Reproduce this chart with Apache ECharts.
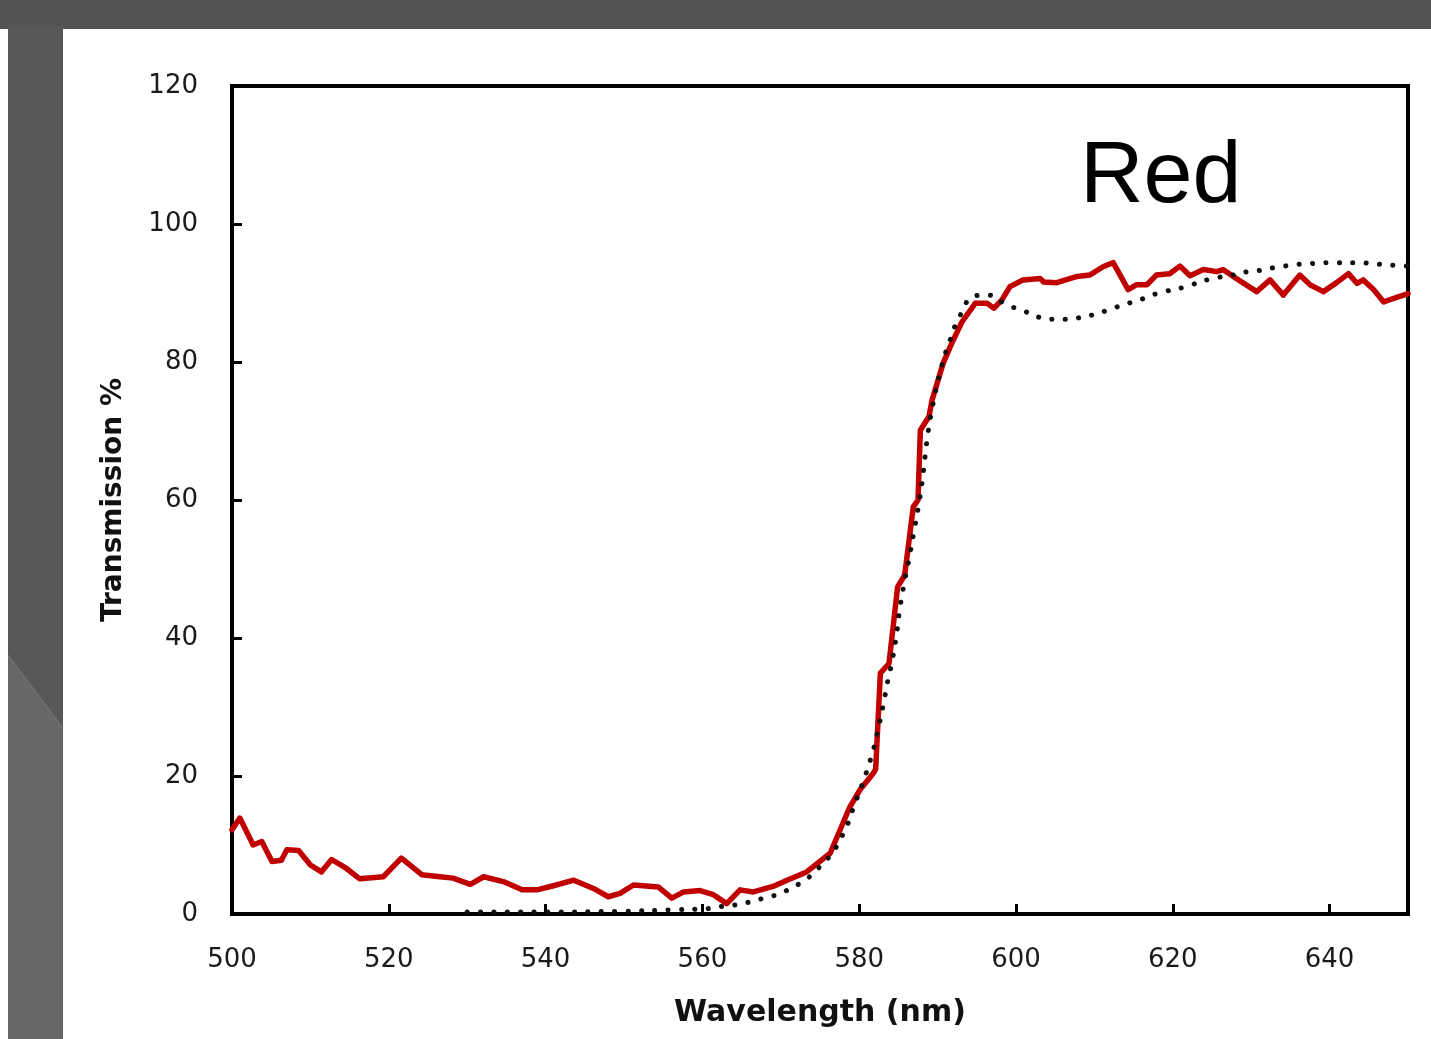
<!DOCTYPE html>
<html>
<head>
<meta charset="utf-8">
<title>Red</title>
<script src="https://cdn.jsdelivr.net/npm/echarts@6/dist/echarts.min.js"></script>
<style>
  html, body { margin: 0; padding: 0; background: #fff; }
  #chart { width: 1431px; height: 1039px; }
</style>
</head>
<body>
<div id="chart"></div>
<script>
// measured transmission (red)
var redWave = [500, 501, 502.7, 503.8, 505.1, 506.3, 507, 508.5, 510, 511.4, 512.7, 514.6, 516.3, 519.3, 521.6, 524.2, 526.5, 528.2, 530.4, 532.1,
  534.6, 537, 538.9, 541, 543.6, 546.1, 548, 549.5, 551.2, 554.4, 556.1, 557.6, 559.7, 561.4, 563.1, 564.8, 566.5, 569, 570.8, 573.3,
  576.3, 578.8, 580.1, 581.8, 582.1, 582.7, 583.8, 584.9, 585.8, 586.9, 587.5, 587.8, 588.9, 589.3, 590.7, 591.8, 593.1, 594.8, 596.3, 597.2,
  598.2, 599.2, 600.9, 603.1, 603.5, 605.2, 607.8, 609.4, 611.1, 612.4, 614.3, 615.4, 616.7, 617.9, 619.6, 620.9, 622.2, 623.9, 625.6, 626.4,
  628.1, 630.7, 632.4, 634.1, 636.2, 637.5, 639.2, 640.9, 642.4, 643.5, 644.3, 645.6, 646.9, 648.1, 650];
var redTrans = [12.2, 13.9, 10.0, 10.5, 7.6, 7.8, 9.3, 9.2, 7.1, 6.1, 7.9, 6.6, 5.1, 5.4, 8.1, 5.7, 5.4, 5.2, 4.3, 5.4,
  4.7, 3.5, 3.5, 4.1, 4.9, 3.7, 2.5, 3.0, 4.2, 3.9, 2.3, 3.2, 3.4, 2.8, 1.5, 3.5, 3.2, 4.0, 4.9, 6.1,
  8.8, 15.5, 18.0, 20.4, 21.0, 34.9, 36.3, 47.4, 49.1, 59.0, 60.0, 70.1, 72.1, 74.5, 79.8, 82.7, 85.8, 88.5, 88.5, 87.8,
  89.0, 90.9, 91.9, 92.1, 91.6, 91.5, 92.4, 92.6, 93.8, 94.4, 90.5, 91.2, 91.2, 92.6, 92.8, 93.9, 92.5, 93.4, 93.1, 93.4,
  92.1, 90.2, 91.9, 89.7, 92.6, 91.2, 90.2, 91.5, 92.8, 91.4, 91.9, 90.5, 88.7, 89.2, 89.9];

// dotted (model) curve
var fitWave = [530, 540, 550, 556, 561, 563, 564.8, 566.5, 568.2, 570, 571.5, 573, 574.3, 575.6, 576.7, 577.4, 578.3, 579.3, 580.5, 581.6,
  582.4, 583.1, 583.7, 584.1, 584.7, 585.1, 585.7, 586.3, 586.9, 587.5, 588, 588.4, 588.8, 589.4, 590.5, 591.6, 592.9, 594.8, 596.5, 598.2,
  599.7, 601.2, 602.9, 604.6, 606.3, 608, 609.7, 611.4, 612.9, 614.6, 616.3, 617.9, 621.3, 624.7, 627.7, 629.6, 631.3, 633, 634.9, 636.6,
  638.3, 640, 643.4, 645.2, 646.9, 648.8, 650];
var fitTrans = [0.3, 0.3, 0.4, 0.6, 0.8, 1.2, 1.4, 1.9, 2.4, 3.0, 3.9, 4.8, 6.1, 7.6, 9.0, 10.5, 12.4, 15.5, 19.2, 23.0,
  26.7, 30.5, 34.1, 36.1, 40.0, 43.6, 47.7, 51.1, 54.9, 58.7, 62.4, 66.3, 69.9, 73.8, 79.3, 83.2, 86.8, 89.6, 89.7, 88.7,
  87.9, 87.3, 86.5, 86.2, 86.2, 86.4, 86.8, 87.4, 88.0, 88.6, 89.2, 89.9, 90.8, 92.0, 92.6, 93.1, 93.3, 93.7, 94.0, 94.2,
  94.3, 94.4, 94.4, 94.3, 94.1, 94.0, 93.9];

var xRange = [500, 650];
var yRange = [0, 120];

function pairs(xs, ys) {
  var out = [];
  for (var i = 0; i < xs.length; i++) out.push([xs[i], ys[i]]);
  return out;
}

var myChart = echarts.init(document.getElementById('chart'));
var labelFont = { color: '#1a1a1a', fontSize: 26, fontFamily: 'DejaVu Sans' };

var option = {
  backgroundColor: '#fff',
  animation: false,
  graphic: [
    // slide frame
    { type: 'rect', shape: { x: 0, y: 0, width: 1431, height: 29 }, style: { fill: '#545454' } },
    { type: 'rect', shape: { x: 8, y: 26, width: 55, height: 1013 }, style: { fill: '#585858' } },
    { type: 'polygon', shape: { points: [[8, 655], [63, 728], [63, 1039], [8, 1039]] }, style: { fill: '#666767' } },
    { type: 'line', shape: { x1: 8, y1: 655, x2: 63, y2: 728 }, style: { stroke: '#7a7a7a', lineWidth: 1 } },
    {
      type: 'text', left: 1080, top: 134,
      style: { text: 'Red', fontSize: 88, fontFamily: 'Liberation Sans', fill: '#000' }
    }
  ],
  grid: {
    left: 232, right: 23, top: 86, bottom: 125,
    show: true, borderColor: '#000', borderWidth: 4
  },
  xAxis: {
    type: 'value',
    min: xRange[0], max: xRange[1], interval: 20,
    name: 'Wavelength (nm)',
    nameLocation: 'middle',
    nameGap: 84,
    nameTextStyle: { color: '#111', fontSize: 30, fontWeight: 'bold', fontFamily: 'DejaVu Sans' },
    splitLine: { show: false },
    axisLine: { lineStyle: { color: '#000', width: 4 } },
    axisTick: { inside: true, length: 10, lineStyle: { color: '#000', width: 3 } },
    axisLabel: Object.assign({ margin: 33, showMaxLabel: false }, labelFont)
  },
  yAxis: {
    type: 'value',
    min: yRange[0], max: yRange[1], interval: 20,
    name: 'Transmission %',
    nameLocation: 'middle',
    nameGap: 104,
    nameTextStyle: { color: '#111', fontSize: 28, fontWeight: 'bold', fontFamily: 'DejaVu Sans' },
    splitLine: { show: false },
    axisLine: { show: true, lineStyle: { color: '#000', width: 4 } },
    axisTick: { show: true, inside: true, length: 10, lineStyle: { color: '#000', width: 3 } },
    axisLabel: Object.assign({ margin: 34 }, labelFont)
  },
  series: [{
    name: 'measured',
    type: 'line',
    data: pairs(redWave, redTrans),
    symbol: 'none',
    smooth: false,
    z: 2,
    lineStyle: { color: '#c00000', width: 5.5, join: 'round', cap: 'round' }
  }, {
    name: 'fit',
    type: 'line',
    data: pairs(fitWave, fitTrans),
    symbol: 'none',
    smooth: true,
    z: 3,
    lineStyle: { color: '#111', width: 5, type: [0.1, 13.3], cap: 'round' }
  }]
};
myChart.setOption(option);
</script>
</body>
</html>
